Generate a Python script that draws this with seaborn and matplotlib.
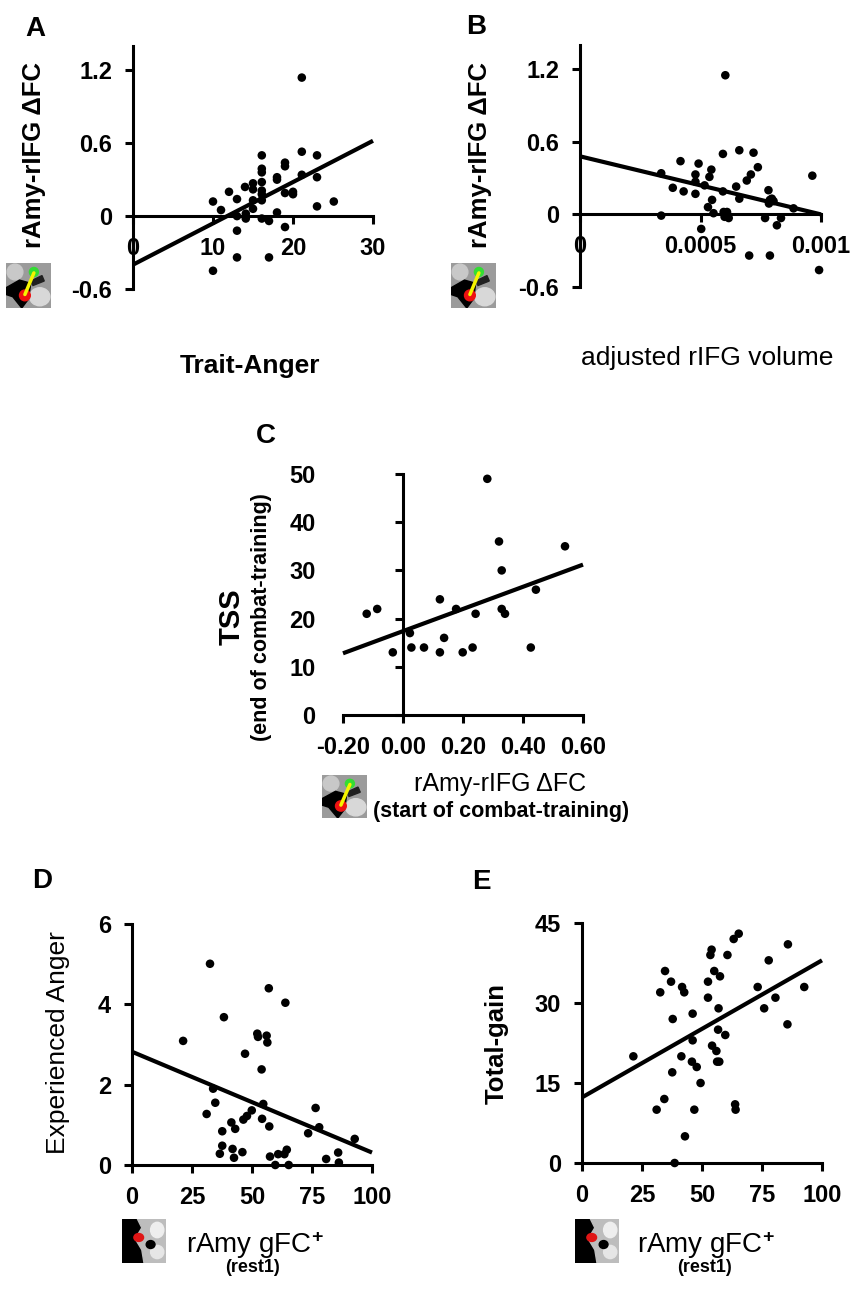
import matplotlib
matplotlib.use("Agg")
import matplotlib.pyplot as plt
import seaborn as sns
from matplotlib.patches import Rectangle, Circle, Ellipse, Polygon

sns.set_style("ticks")
plt.rcParams['font.family'] = ['Liberation Sans', 'DejaVu Sans']
plt.rcParams['axes.unicode_minus'] = False
plt.rcParams['text.color'] = 'black'
plt.rcParams['xtick.color'] = 'black'
plt.rcParams['ytick.color'] = 'black'
plt.rcParams['mathtext.fontset'] = 'custom'
plt.rcParams['mathtext.rm'] = 'Liberation Sans'
plt.rcParams['mathtext.bf'] = 'Liberation Sans:bold'
plt.rcParams['mathtext.default'] = 'regular'

# Panel A: Trait-Anger vs rAmy-rIFG dFC
a_x = [21.1, 10.0, 11.0, 12.0, 13.0, 13.0, 13.0, 13.0, 10.0, 14.0, 14.1, 14.1,
       15.0, 15.0, 15.0, 15.0, 16.1, 16.1, 16.1, 16.1, 16.1, 16.1, 16.1, 16.1,
       17.0, 17.0, 18.0, 18.0, 18.0, 19.0, 19.0, 19.0, 19.0, 20.0, 20.0, 21.1,
       21.1, 23.0, 23.0, 23.0, 25.1]
a_y = [1.14, 0.12, 0.05, 0.20, 0.14, 0.00, -0.12, -0.34, -0.45, 0.24, 0.02, -0.02,
       0.27, 0.22, 0.13, 0.06, 0.50, 0.39, 0.36, 0.28, 0.21, 0.18, 0.13, -0.02,
       -0.04, -0.34, 0.32, 0.30, 0.03, 0.44, 0.41, 0.19, -0.09, 0.20, 0.18, 0.53,
       0.34, 0.50, 0.32, 0.08, 0.12]
a_fit_x = [0, 30]
a_fit_y = [-0.40, 0.62]

# Panel B: adjusted rIFG volume vs rAmy-rIFG dFC
b_x = [0.000603, 0.000337, 0.000337, 0.000385, 0.000417, 0.000430, 0.000479,
       0.000479, 0.000479, 0.000492, 0.000503, 0.000517, 0.000531, 0.000537,
       0.000545, 0.000548, 0.000554, 0.000593, 0.000593, 0.000596, 0.000600,
       0.000610, 0.000614, 0.000617, 0.000648, 0.000661, 0.000661, 0.000692,
       0.000702, 0.000709, 0.000720, 0.000738, 0.000768, 0.000782, 0.000784,
       0.000788, 0.000788, 0.000796, 0.000803, 0.000817, 0.000834, 0.000886,
       0.000964, 0.000992]
b_y = [1.15, 0.34, -0.01, 0.22, 0.44, 0.19, 0.33, 0.27, 0.17, 0.42, -0.12, 0.24,
       0.06, 0.31, 0.37, 0.12, 0.01, 0.50, 0.19, 0.02, -0.02, 0.02, -0.01, -0.03,
       0.23, 0.53, 0.13, 0.28, -0.34, 0.33, 0.51, 0.39, -0.03, 0.20, 0.09, 0.12,
       -0.34, 0.13, 0.11, -0.09, -0.03, 0.05, 0.32, -0.46]
b_fit_x = [0, 0.001]
b_fit_y = [0.48, 0.00]

# Panel C: rAmy-rIFG dFC (start) vs TSS (end)
c_x = [-0.121, -0.086, -0.034, 0.023, 0.028, 0.070, 0.123, 0.123, 0.137, 0.177,
       0.199, 0.232, 0.242, 0.281, 0.320, 0.329, 0.329, 0.340, 0.426, 0.443, 0.540]
c_y = [21, 22, 13, 17, 14, 14, 24, 13, 16, 22, 13, 14, 21, 49, 36, 30, 22, 21, 14, 26, 35]
c_fit_x = [-0.2, 0.6]
c_fit_y = [12.8, 31.2]

# Panel D: rAmy gFC+ vs Experienced Anger
d_x = [21.3, 31.1, 32.5, 33.8, 34.7, 36.6, 37.6, 37.6, 38.3, 41.4, 41.9, 42.5,
       43.0, 46.0, 46.4, 47.1, 47.9, 49.9, 52.2, 52.5, 54.0, 54.2, 54.7, 56.1,
       56.4, 57.0, 57.2, 57.5, 59.7, 60.9, 63.5, 63.9, 64.5, 65.3, 73.4, 76.5,
       78.0, 80.9, 85.9, 86.2, 92.8]
d_y = [3.09, 1.27, 5.01, 1.90, 1.55, 0.28, 0.84, 0.48, 3.68, 1.06, 0.40, 0.18,
       0.90, 0.32, 1.13, 2.77, 1.22, 1.36, 3.27, 3.19, 2.38, 1.15, 1.52, 3.22,
       3.05, 4.40, 0.96, 0.21, 0.00, 0.27, 0.27, 4.04, 0.38, 0.00, 0.79, 1.42,
       0.94, 0.15, 0.31, 0.06, 0.65]
d_fit_x = [0, 100]
d_fit_y = [2.82, 0.31]

# Panel E: rAmy gFC+ vs Total-gain
e_x = [21.4, 31.1, 32.6, 34.3, 34.6, 37.1, 37.6, 37.8, 38.6, 41.4, 41.7, 42.6,
       42.9, 46.1, 46.1, 45.8, 46.8, 47.8, 49.4, 52.5, 52.5, 53.5, 54.0, 54.2,
       55.1, 56.0, 56.3, 56.7, 56.9, 57.2, 57.5, 59.7, 60.6, 63.2, 63.8, 64.0,
       65.3, 73.2, 75.9, 77.8, 80.6, 85.6, 85.8, 92.6]
e_y = [20, 10, 32, 12, 36, 34, 17, 27, 0, 20, 33, 32, 5, 28, 23, 19, 10, 18,
       15, 31, 34, 39, 40, 22, 36, 21, 19, 25, 29, 19, 35, 24, 39, 42, 11, 10,
       43, 33, 29, 38, 31, 26, 41, 33]
e_fit_x = [0, 100]
e_fit_y = [12.3, 38.0]

W, H = 864, 1300
fig = plt.figure(figsize=(8.64, 13.0), dpi=100)


def px_axes(l, t, r, b):
    return fig.add_axes([l / W, 1 - b / H, (r - l) / W, (b - t) / H])


def ftext(x, y, s, **kw):
    fig.text(x / W, 1 - y / H, s, ha='center', va='center', **kw)


def style(ax):
    sns.despine(ax=ax)
    for sp in ['left', 'bottom']:
        ax.spines[sp].set_linewidth(2.2)
        ax.spines[sp].set_color('black')
    ax.tick_params(direction='out', length=6, width=2.2, colors='black',
                   labelsize=17, pad=9)
    for lab in ax.get_xticklabels() + ax.get_yticklabels():
        lab.set_fontweight('bold')
    ax.set_facecolor('none')


def panel(ax, x, y, fx, fy):
    sns.scatterplot(x=x, y=y, ax=ax, color='black', s=38, edgecolor='none',
                    clip_on=False, zorder=3)
    ax.plot(fx, fy, color='black', lw=3, solid_capstyle='butt', clip_on=False)
    ax.set_xlabel('')
    ax.set_ylabel('')


def brain(l, t, r, b, kind):
    bx = px_axes(l, t, r, b)
    bx.set_xlim(0, 1)
    bx.set_ylim(0, 1)
    bx.axis('off')
    if kind == 'pair':
        bx.add_patch(Rectangle((0, 0), 1, 1, color='#9b9b9b'))
        bx.add_patch(Ellipse((0.75, 0.25), 0.45, 0.4, color='#d8d8d8'))
        bx.add_patch(Ellipse((0.2, 0.8), 0.35, 0.35, color='#c8c8c8'))
        bx.add_patch(Polygon([[0, 0.45], [0.3, 0.62], [0.55, 0.55], [0.5, 0.2],
                              [0.35, 0.0], [0.15, 0.25], [0, 0.3]], color='black'))
        bx.add_patch(Polygon([[0.55, 0.6], [0.8, 0.72], [0.85, 0.6], [0.6, 0.5]],
                             color='#202020'))
        bx.plot([0.42, 0.62], [0.3, 0.78], color='#f5f500', lw=2.5)
        bx.add_patch(Circle((0.62, 0.8), 0.1, color='#33dd33'))
        bx.add_patch(Circle((0.42, 0.28), 0.12, color='#ee1111'))
    else:
        bx.add_patch(Rectangle((0, 0), 1, 1, color='black'))
        bx.add_patch(Polygon([[0.35, 1], [1, 1], [1, 0], [0.5, 0], [0.45, 0.3],
                              [0.3, 0.55], [0.45, 0.8]], color='#bdbdbd'))
        bx.add_patch(Ellipse((0.8, 0.75), 0.3, 0.35, color='#eeeeee'))
        bx.add_patch(Ellipse((0.8, 0.25), 0.3, 0.3, color='#e6e6e6'))
        bx.add_patch(Ellipse((0.65, 0.42), 0.2, 0.18, color='black'))
        bx.add_patch(Ellipse((0.38, 0.58), 0.22, 0.18, color='#e01515'))


# ---- A ----
axA = px_axes(133, 46, 373, 289)
panel(axA, a_x, a_y, a_fit_x, a_fit_y)
axA.set_xlim(0, 30)
axA.set_ylim(-0.6, 1.4)
axA.set_xticks([0, 10, 20, 30], ['0', '10', '20', '30'])
axA.set_yticks([-0.6, 0, 0.6, 1.2], ['-0.6', '0', '0.6', '1.2'])
axA.spines['bottom'].set_position(('data', 0))
style(axA)

# ---- B ----
axB = px_axes(580, 45, 821, 287)
panel(axB, b_x, b_y, b_fit_x, b_fit_y)
axB.set_xlim(0, 0.001)
axB.set_ylim(-0.6, 1.4)
axB.set_xticks([0, 0.0005, 0.001], ['0', '0.0005', '0.001'])
axB.set_yticks([-0.6, 0, 0.6, 1.2], ['-0.6', '0', '0.6', '1.2'])
axB.spines['bottom'].set_position(('data', 0))
style(axB)

# ---- C ----
axC = px_axes(343, 474, 583, 715)
panel(axC, c_x, c_y, c_fit_x, c_fit_y)
axC.set_xlim(-0.2, 0.6)
axC.set_ylim(0, 50)
axC.set_xticks([-0.2, 0, 0.2, 0.4, 0.6], ['-0.20', '0.00', '0.20', '0.40', '0.60'])
axC.set_yticks([0, 10, 20, 30, 40, 50], ['0', '10', '20', '30', '40', '50'])
axC.spines['left'].set_position(('data', 0))
style(axC)
axC.tick_params(axis='y', pad=57)

# ---- D ----
axD = px_axes(132, 924, 372, 1165)
panel(axD, d_x, d_y, d_fit_x, d_fit_y)
axD.set_xlim(0, 100)
axD.set_ylim(0, 6)
axD.set_xticks([0, 25, 50, 75, 100], ['0', '25', '50', '75', '100'])
axD.set_yticks([0, 2, 4, 6], ['0', '2', '4', '6'])
style(axD)

# ---- E ----
axE = px_axes(582, 923, 822, 1163)
panel(axE, e_x, e_y, e_fit_x, e_fit_y)
axE.set_xlim(0, 100)
axE.set_ylim(0, 45)
axE.set_xticks([0, 25, 50, 75, 100], ['0', '25', '50', '75', '100'])
axE.set_yticks([0, 15, 30, 45], ['0', '15', '30', '45'])
style(axE)

# panel letters
for lx, ly, s in [(35, 29, 'A'), (476, 27, 'B'), (266, 436, 'C'),
                  (42, 881, 'D'), (481, 882, 'E')]:
    ftext(lx, ly, s, fontsize=20, fontweight='bold')

# axis titles
ftext(34, 155, 'rAmy-rIFG \u0394FC', fontsize=18.5, fontweight='bold', rotation=90)
ftext(480, 155, 'rAmy-rIFG \u0394FC', fontsize=18.5, fontweight='bold', rotation=90)
ftext(250, 366, 'Trait-Anger', fontsize=19, fontweight='bold')
ftext(707, 358, 'adjusted rIFG volume', fontsize=19)

ftext(232, 617, 'TSS', fontsize=21, fontweight='bold', rotation=90)
ftext(262, 617, '(end of combat-training)', fontsize=15.5, fontweight='bold', rotation=90)
ftext(500, 784, 'rAmy-rIFG \u0394FC', fontsize=18)
ftext(501, 811, '(start of combat-training)', fontsize=15.5, fontweight='bold')

ftext(58, 1043, 'Experienced Anger', fontsize=19, rotation=90)
ftext(497, 1043, 'Total-gain', fontsize=18.5, fontweight='bold', rotation=90)
for cx in (255, 706):
    ftext(cx, 1245, 'rAmy gFC$^{\\mathbf{+}}$', fontsize=20)
    ftext(cx - 2, 1268, '(rest1)', fontsize=13, fontweight='bold')

# small brain pictures
brain(6, 263, 51, 308, 'pair')
brain(451, 263, 496, 308, 'pair')
brain(322, 775, 367, 818, 'pair')
brain(122, 1219, 166, 1263, 'seed')
brain(575, 1219, 619, 1263, 'seed')

fig.savefig('out.png', dpi=100)
